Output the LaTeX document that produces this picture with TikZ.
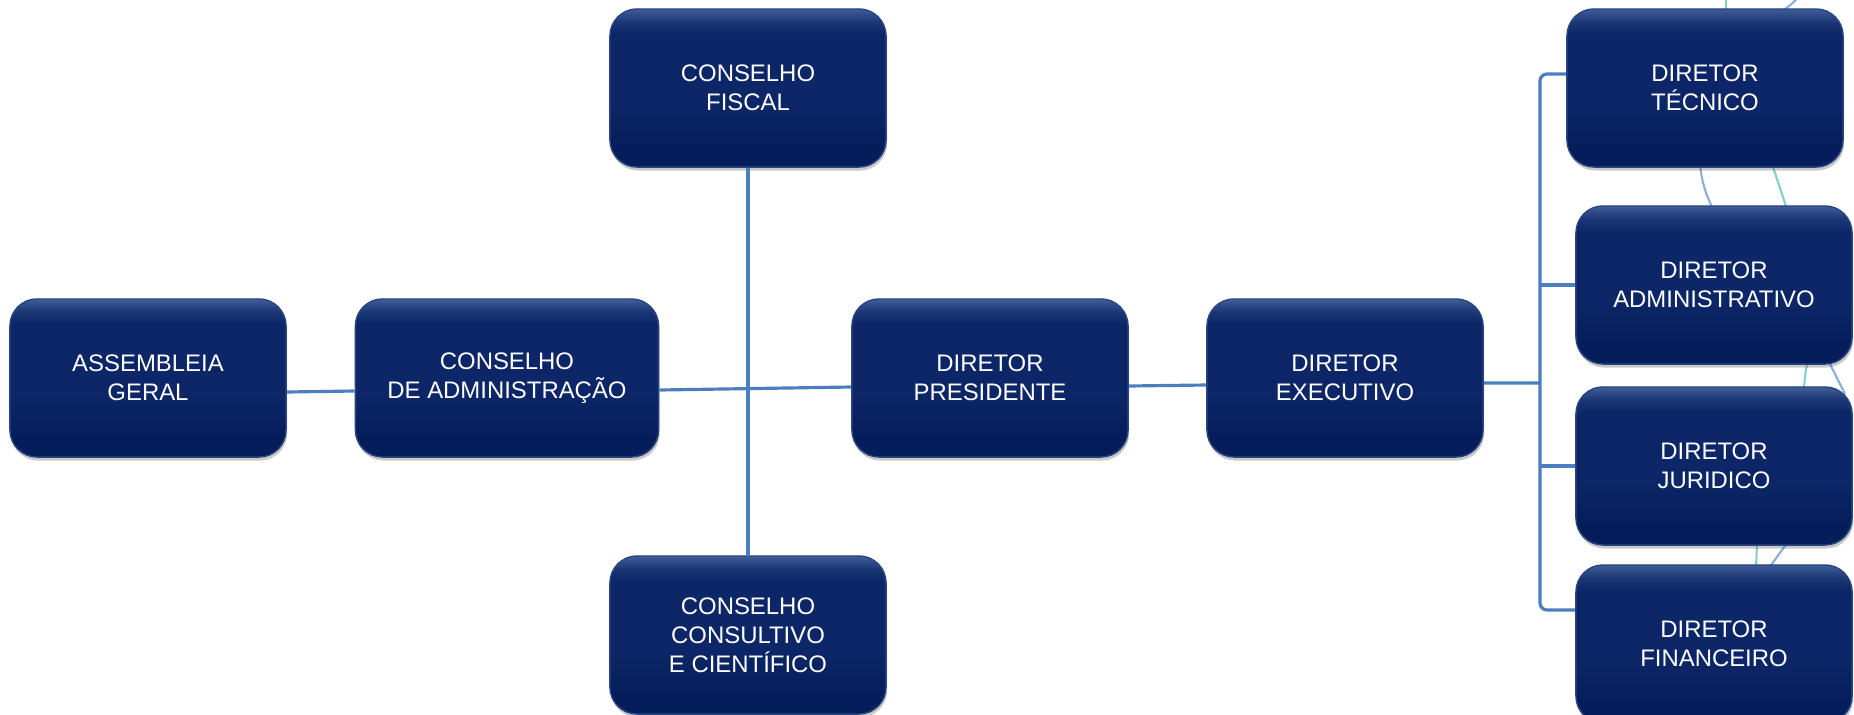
\documentclass[tikz,border=0pt]{standalone}
\usepackage{fontspec}
\setmainfont{Liberation Sans}
\usepackage{tikz}
\usetikzlibrary{shadows}

\definecolor{navytop}{HTML}{3F5D99}
\definecolor{navyhi}{HTML}{1C3775}
\definecolor{navymid}{HTML}{0C2667}
\definecolor{navybot}{HTML}{061D5B}
\definecolor{boxline}{HTML}{29457F}
\definecolor{linkblue}{HTML}{4A7EBF}
\definecolor{glintteal}{HTML}{86CFC9}
\definecolor{glintblue}{HTML}{8AAFDC}

\pgfdeclareverticalshading{boxshade}{100bp}{color(0bp)=(navybot); color(25bp)=(navybot); color(31bp)=(navybot); color(45bp)=(navymid); color(67bp)=(navymid); color(71bp)=(navyhi); color(75bp)=(navytop); color(100bp)=(navytop)}

\begin{document}
\begin{tikzpicture}
[
    x = 0.01cm, y = -0.01cm,
    cargo/.style = {shade, shading = boxshade, draw = boxline, line width = 0.4pt,
        rounded corners = 0.27cm, minimum width = 2.76cm, minimum height = 1.58cm,
        text = white, align = center, font = \fontsize{6.8}{8.2}\selectfont,
        drop shadow = {shadow xshift = 0.3pt, shadow yshift = -1pt, opacity = 0.3, fill = black!70}},
    wide/.style = {minimum width = 3.03cm},
    link/.style = {draw = linkblue, line width = 0.9pt},
    glint/.style = {line width = 0.6pt}
]

\useasboundingbox (0,0) rectangle (1854,715);

% light curves behind the right column
\draw[glint, glintteal] (1726,-5) -- (1726,12);
\draw[glint, glintblue] (1800,-5) to[bend left=10] (1780,12);
\draw[glint, glintblue] (1700,164) to[bend right=10] (1713,209);
\draw[glint, glintteal] (1772,164) -- (1787,209);
\draw[glint, glintteal] (1808,360) to[bend right=5] (1804,390);
\draw[glint, glintblue] (1828,360) -- (1845,394);
\draw[glint, glintteal] (1757,543) -- (1756,568);
\draw[glint, glintblue] (1787,543) -- (1769,568);

\node[cargo] (ag) at (148,378) {ASSEMBLEIA\\GERAL};
\node[cargo, wide] (ca) at (507,378) {CONSELHO\\DE ADMINISTRAÇÃO};
\node[cargo] (cf) at (748,88) {CONSELHO\\FISCAL};
\node[cargo] (ccc) at (748,635) {CONSELHO\\CONSULTIVO\\E CIENTÍFICO};
\node[cargo] (dp) at (990,378) {DIRETOR\\PRESIDENTE};
\node[cargo] (de) at (1345,378) {DIRETOR\\EXECUTIVO};
\node[cargo] (dt) at (1705,88) {DIRETOR\\TÉCNICO};
\node[cargo] (da) at (1714,285) {DIRETOR\\ADMINISTRATIVO};
\node[cargo] (dj) at (1714,466) {DIRETOR\\JURIDICO};
\node[cargo] (df) at (1714,644) {DIRETOR\\FINANCEIRO};

\draw[link] ([yshift=-0.14cm]ag.east) -- ([yshift=-0.13cm]ca.west);
\draw[link] ([yshift=-0.12cm]ca.east) -- ([yshift=-0.09cm]dp.west);
\draw[link] (cf) -- (ccc);
\draw[link] ([yshift=-0.08cm]dp.east) -- ([yshift=-0.07cm]de.west);

\coordinate (bus) at (1540,383);
\draw[link] ([yshift=-0.05cm]de.east) -- (bus);
\draw[link, rounded corners=2pt] ([yshift=0.14cm]dt.west) -| (bus) |- ([yshift=0.34cm]df.west);
\draw[link] (bus |- da.west) -- (da.west);
\draw[link] (bus |- dj.west) -- (dj.west);

\end{tikzpicture}
\end{document}
